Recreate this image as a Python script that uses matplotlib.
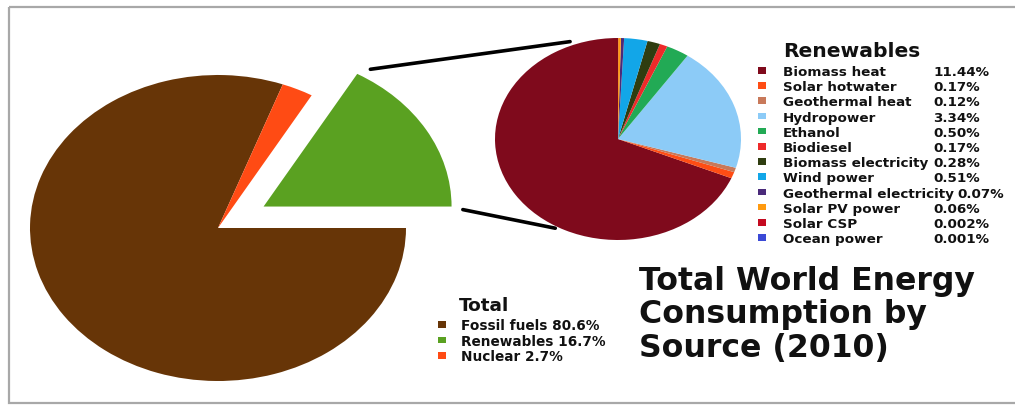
import numpy as np
import matplotlib
matplotlib.use("Agg")
import matplotlib.pyplot as plt
from matplotlib.patches import Rectangle, ConnectionPatch

# --- data ---
total_names = ["Fossil fuels", "Renewables", "Nuclear"]
total_pct = [80.6, 16.7, 2.7]
total_colors = ["#673507", "#5aa121", "#ff4b14"]

renew_names = ["Biomass heat", "Solar hotwater", "Geothermal heat", "Hydropower",
               "Ethanol", "Biodiesel", "Biomass electricity", "Wind power",
               "Geothermal electricity", "Solar PV power", "Solar CSP", "Ocean power"]
renew_pct = [11.44, 0.17, 0.12, 3.34, 0.50, 0.17, 0.28, 0.51, 0.07, 0.06, 0.002, 0.001]
renew_pct_text = ["11.44%", "0.17%", "0.12%", "3.34%", "0.50%", "0.17%", "0.28%",
                  "0.51%", "0.07%", "0.06%", "0.002%", "0.001%"]
renew_colors = ["#7f0a1c", "#ff4d14", "#c8795a", "#8ccbf7", "#22aa55", "#ee2a2a",
                "#2f3d10", "#12a6e8", "#4a2a7a", "#ff9a10", "#c40a20", "#3b49d6"]

title = "Total World Energy\nConsumption by\nSource (2010)"

W, H = 1015, 406
fig = plt.figure(figsize=(W / 100, H / 100), dpi=100)
fig.patch.set_facecolor("white")

# overlay in pixel coords for frame / legends / title
ov = fig.add_axes([0, 0, 1, 1], zorder=0)
ov.set_xlim(0, W)
ov.set_ylim(H, 0)
ov.axis("off")
ov.add_patch(Rectangle((9, 8), W + 20, 396, fill=False, edgecolor="#a8a8a8", lw=1.6))


def pie_axes(cx, cy, rx, ry, a, b):
    # axes whose data box (-a..a, -b..b) sits on the ellipse given in pixels
    ax = fig.add_axes([(cx - a * rx) / W, (H - (cy + b * ry)) / H,
                       2 * a * rx / W, 2 * b * ry / H], zorder=2)
    return ax


# main pie
ax1 = pie_axes(218, 229, 188, 153, 1.3, 1.1)
start = 360 * (1 - total_pct[0] / sum(total_pct))
w1, _ = ax1.pie(total_pct, colors=total_colors, startangle=start,
                explode=[0, 0.28, 0], wedgeprops=dict(linewidth=0))
ax1.set_aspect("auto")
ax1.set_xlim(-1.3, 1.3)
ax1.set_ylim(-1.1, 1.1)
ax1.axis("off")

# renewables pie
ax2 = pie_axes(618, 140, 123, 101, 1.1, 1.1)
w2, _ = ax2.pie(renew_pct, colors=renew_colors, startangle=90,
                wedgeprops=dict(linewidth=0))
ax2.set_aspect("auto")
ax2.set_xlim(-1.1, 1.1)
ax2.set_ylim(-1.1, 1.1)
ax2.axis("off")

# connector lines from the exploded wedge to the second pie
g = w1[1]
gx, gy = g.center
t1, t2 = np.deg2rad(g.theta1), np.deg2rad(g.theta2)
pA_top = (gx + np.cos(t2) + 0.07, gy + np.sin(t2) + 0.03)
pA_bot = (gx + np.cos(t1) + 0.06, gy + np.sin(t1) - 0.02)
pB_top = (1.04 * np.cos(np.deg2rad(112)), 1.04 * np.sin(np.deg2rad(112)))
pB_bot = (1.02 * np.cos(np.deg2rad(240)), 1.02 * np.sin(np.deg2rad(240)))
for a_, b_ in [(pA_top, pB_top), (pA_bot, pB_bot)]:
    con = ConnectionPatch(xyA=a_, coordsA=ax1.transData, xyB=b_, coordsB=ax2.transData,
                          color="black", lw=2.6)
    fig.add_artist(con)

txt = dict(color="#111111", fontweight="bold", family="DejaVu Sans")

# renewables legend: percent column at a tab stop, pushed right by long names
ov.text(783, 57, "Renewables", fontsize=14.6, va="baseline", **txt)
fig.canvas.draw()
renderer = fig.canvas.get_renderer()
for i, (n, p, c) in enumerate(zip(renew_names, renew_pct_text, renew_colors)):
    y = 76 + i * 15.2
    ov.add_patch(Rectangle((758.5, y - 8), 8, 6.5, color=c, lw=0))
    t = ov.text(783, y, n, fontsize=9.7, va="baseline", **txt)
    x_end = ov.transData.inverted().transform(t.get_window_extent(renderer))[1, 0]
    ov.text(max(933, x_end + 4), y, p, fontsize=9.7, va="baseline", **txt)

# total legend
ov.text(459, 311, "Total", fontsize=13.3, va="baseline", **txt)
for i, (n, p, c) in enumerate(zip(total_names, total_pct, total_colors)):
    y = 330 + i * 15.7
    ov.add_patch(Rectangle((438, y - 8), 8, 6.5, color=c, lw=0))
    ov.text(461, y, f"{n} {p}%", fontsize=9.8, va="baseline", **txt)

# title (multi-line text: baseline anchors the last line)
ov.text(639, 357, title, fontsize=22.7, va="baseline", linespacing=1.11, **txt)

fig.savefig("out.png", dpi=100, facecolor="white")
